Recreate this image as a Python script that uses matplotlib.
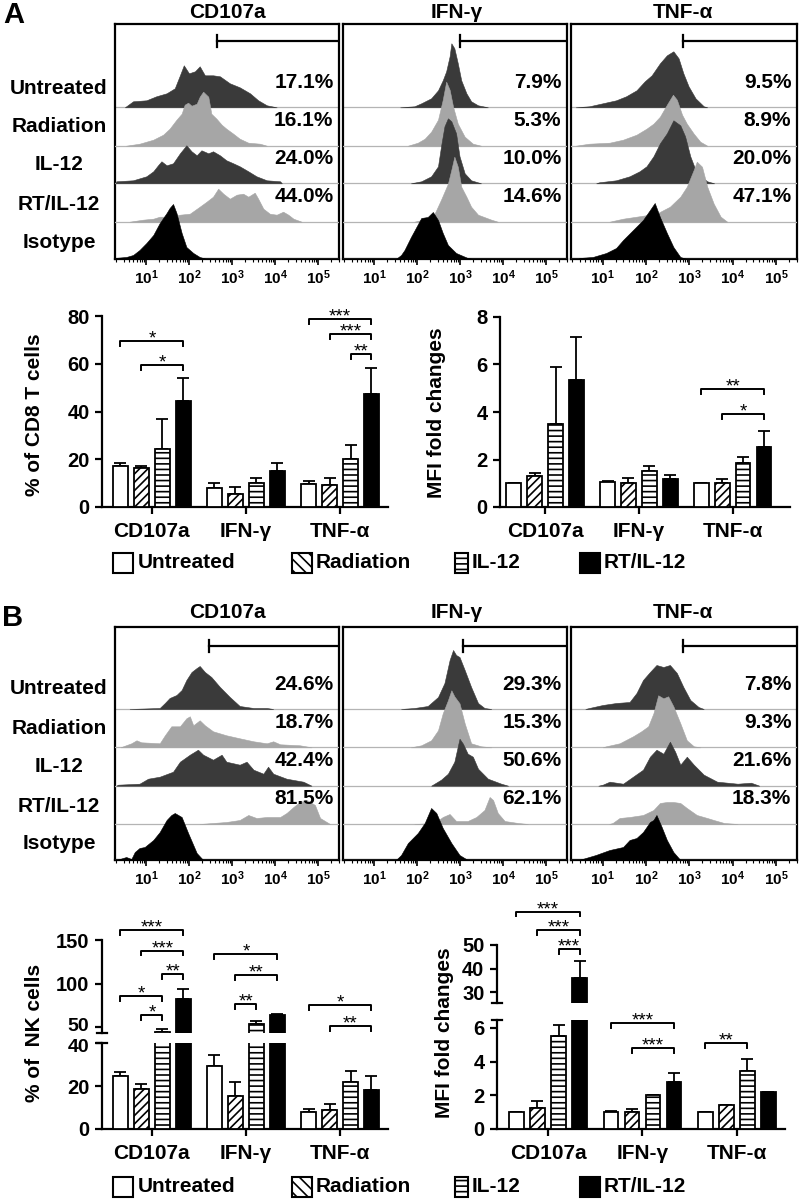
import numpy as np
import matplotlib.pyplot as plt
import matplotlib.transforms as mtransforms
from matplotlib.patches import Rectangle
from matplotlib.ticker import LogLocator, NullFormatter

plt.rcParams['font.family'] = ['Liberation Sans', 'DejaVu Sans']
plt.rcParams['font.weight'] = 'bold'
plt.rcParams['mathtext.fontset'] = 'custom'
plt.rcParams['mathtext.rm'] = 'Liberation Sans:bold'
plt.rcParams['mathtext.bf'] = 'Liberation Sans:bold'
plt.rcParams['hatch.linewidth'] = 1.2

# ---------------- data ----------------
conditions = ['Untreated', 'Radiation', 'IL-12', 'RT/IL-12']
row_labels = ['Untreated', 'Radiation', 'IL-12', 'RT/IL-12', 'Isotype']
markers = ['CD107a', 'IFN-γ', 'TNF-α']

# flow histograms: (log10 intensity, height above row baseline in px), rows top->bottom
A_CD107A = [
    [(0.50, 0), (0.69, 6), (1.0, 7), (1.23, 11), (1.47, 14), (1.66, 19), (1.78, 32), (1.87, 42), (1.99, 34), (2.13, 36),
     (2.24, 41), (2.36, 32), (2.55, 32), (2.71, 31), (2.94, 24), (3.17, 20), (3.41, 14), (3.60, 7), (3.80, 2), (4.03, 0)],
    [(0.53, 0), (0.84, 2), (1.16, 6), (1.39, 11), (1.54, 17), (1.70, 26), (1.82, 32), (1.89, 41), (1.97, 43), (2.05, 40),
     (2.17, 42), (2.24, 49), (2.32, 54), (2.44, 49), (2.51, 32), (2.63, 27), (2.75, 21), (2.86, 17), (3.02, 12), (3.17, 7),
     (3.37, 3), (3.64, 2), (3.80, 0)],
    [(0.28, 0), (0.30, 2), (0.69, 3), (1.0, 7), (1.16, 12), (1.27, 18), (1.35, 22), (1.47, 18), (1.62, 20), (1.78, 30),
     (1.93, 38), (2.05, 32), (2.17, 28), (2.28, 33), (2.44, 30), (2.55, 32), (2.71, 28), (2.86, 23), (3.02, 20), (3.17, 17),
     (3.37, 12), (3.56, 7), (3.80, 3), (4.11, 2), (4.15, 0)],
    [(0.61, 0), (0.92, 2), (1.16, 3), (1.31, 5), (1.54, 5), (1.78, 7), (2.01, 8), (2.24, 15), (2.40, 20), (2.55, 25),
     (2.67, 33), (2.79, 28), (2.94, 23), (3.10, 27), (3.25, 28), (3.37, 25), (3.52, 29), (3.60, 23), (3.72, 13), (3.87, 8),
     (4.03, 7), (4.18, 10), (4.30, 7), (4.42, 3), (4.61, 0)],
    [(0.26, 1), (0.53, 2), (0.69, 4), (0.84, 9), (1.0, 16), (1.16, 24), (1.31, 36), (1.47, 46), (1.54, 51), (1.62, 55),
     (1.70, 46), (1.82, 26), (1.93, 12), (2.09, 6), (2.24, 2), (2.40, 0)],
]
A_IFNG = [
    [(1.6, 0), (1.93, 1), (2.09, 4), (2.32, 9), (2.48, 17), (2.59, 27), (2.67, 36), (2.75, 51), (2.79, 64), (2.86, 59),
     (2.94, 44), (3.02, 27), (3.14, 14), (3.25, 6), (3.41, 2), (3.64, 0)],
    [(1.78, 0), (2.01, 3), (2.17, 7), (2.32, 14), (2.48, 26), (2.59, 46), (2.67, 64), (2.75, 56), (2.83, 39), (2.94, 22),
     (3.10, 9), (3.29, 2), (3.48, 0)],
    [(1.85, 0), (2.09, 2), (2.32, 7), (2.48, 17), (2.55, 37), (2.63, 57), (2.71, 65), (2.79, 62), (2.90, 50), (2.98, 27),
     (3.10, 10), (3.25, 3), (3.48, 0)],
    [(1.93, 0), (2.24, 3), (2.40, 8), (2.55, 22), (2.71, 38), (2.79, 52), (2.86, 65), (2.94, 55), (3.02, 35), (3.14, 25),
     (3.25, 15), (3.41, 7), (3.72, 2), (3.87, 0)],
    [(1.5, 0), (1.62, 4), (1.70, 9), (1.85, 22), (2.09, 41), (2.24, 42), (2.36, 47), (2.48, 39), (2.59, 26), (2.71, 14),
     (2.90, 6), (3.17, 1), (3.3, 0)],
]
A_TNFA = [
    [(0.38, 0), (0.69, 1), (1.0, 4), (1.31, 7), (1.54, 11), (1.78, 17), (1.97, 26), (2.13, 32), (2.32, 44), (2.48, 52),
     (2.63, 56), (2.75, 49), (2.86, 34), (2.98, 21), (3.14, 9), (3.33, 1), (3.41, 0)],
    [(0.38, 0), (0.69, 2), (1.16, 3), (1.47, 6), (1.78, 11), (2.01, 17), (2.17, 22), (2.32, 29), (2.48, 41), (2.62, 51),
     (2.71, 46), (2.83, 31), (2.94, 22), (3.10, 12), (3.25, 4), (3.41, 0)],
    [(0.85, 0), (0.92, 1), (1.31, 3), (1.62, 7), (1.85, 12), (2.01, 17), (2.17, 27), (2.32, 40), (2.48, 50), (2.63, 63),
     (2.79, 58), (2.90, 47), (3.02, 27), (3.17, 10), (3.41, 2), (3.57, 0)],
    [(1.16, 0), (1.47, 3), (1.78, 5), (2.24, 8), (2.55, 15), (2.79, 25), (2.94, 35), (3.10, 52), (3.17, 60), (3.29, 55),
     (3.41, 35), (3.56, 18), (3.72, 5), (3.87, 0)],
    [(0.46, 1), (0.77, 2), (1.08, 6), (1.31, 11), (1.47, 19), (1.70, 29), (1.93, 39), (2.09, 49), (2.20, 56), (2.32, 42),
     (2.48, 26), (2.63, 12), (2.79, 2), (2.94, 0)],
]
B_CD107A = [
    [(0.61, 0), (1.31, 1), (1.43, 6), (1.54, 11), (1.70, 14), (1.82, 19), (1.93, 29), (2.05, 37), (2.17, 41), (2.24, 43),
     (2.36, 37), (2.51, 32), (2.71, 22), (2.94, 12), (3.17, 3), (3.49, 1), (3.80, 1), (3.95, 0)],
    [(0.40, 0), (0.46, 1), (0.65, 4), (0.77, 7), (0.88, 5), (1.31, 4), (1.43, 12), (1.58, 21), (1.78, 21), (1.93, 29),
     (2.01, 31), (2.09, 22), (2.24, 27), (2.36, 22), (2.55, 16), (2.86, 12), (3.17, 9), (3.49, 6), (3.80, 4), (3.95, 6),
     (4.11, 3), (4.57, 2), (4.84, 0)],
    [(0.30, 0), (0.34, 1), (0.84, 2), (1.04, 7), (1.31, 9), (1.62, 14), (1.78, 24), (2.01, 31), (2.20, 36), (2.32, 31),
     (2.55, 26), (2.75, 31), (2.86, 24), (3.17, 21), (3.33, 24), (3.49, 16), (3.72, 12), (3.83, 19), (3.95, 12), (4.26, 7),
     (4.65, 4), (4.84, 0)],
    [(2.24, 0), (2.86, 2), (3.17, 4), (3.37, 9), (3.56, 6), (3.80, 7), (4.11, 7), (4.26, 11), (4.42, 17), (4.57, 22),
     (4.73, 24), (4.92, 19), (5.04, 6), (5.27, 0)],
    [(0.30, 0), (0.38, 1), (0.53, 3), (0.65, 1), (0.73, 8), (0.84, 12), (0.96, 13), (1.16, 20), (1.31, 28), (1.47, 40),
     (1.58, 45), (1.66, 47), (1.82, 43), (1.97, 27), (2.17, 7), (2.32, 0)],
]
B_IFNG = [
    [(1.62, 0), (1.93, 1), (2.24, 3), (2.48, 12), (2.63, 26), (2.75, 49), (2.83, 59), (2.90, 54), (2.98, 52), (3.10, 39),
     (3.25, 22), (3.41, 6), (3.56, 1), (3.72, 0)],
    [(1.85, 0), (2.09, 2), (2.32, 7), (2.48, 17), (2.59, 34), (2.71, 47), (2.79, 57), (2.86, 51), (2.98, 44), (3.10, 24),
     (3.25, 4), (3.48, 1), (3.72, 0)],
    [(2.32, 0), (2.55, 6), (2.71, 12), (2.86, 24), (2.98, 47), (3.06, 42), (3.17, 32), (3.29, 29), (3.41, 17), (3.64, 7),
     (3.95, 2), (4.11, 0)],
    [(1.93, 0), (2.40, 1), (2.59, 7), (2.75, 10), (2.90, 3), (3.17, 3), (3.37, 7), (3.56, 14), (3.68, 27), (3.76, 24),
     (3.87, 11), (4.03, 3), (4.34, 1), (4.57, 0)],
    [(1.5, 0), (1.62, 5), (1.78, 17), (2.01, 27), (2.17, 37), (2.32, 52), (2.44, 47), (2.59, 32), (2.79, 17), (2.98, 5),
     (3.17, 0)],
]
B_TNFA = [
    [(0.6, 0), (0.69, 1), (1.0, 4), (1.31, 6), (1.62, 7), (1.78, 16), (1.93, 29), (2.09, 37), (2.24, 44), (2.40, 42),
     (2.55, 44), (2.71, 36), (2.86, 22), (3.02, 9), (3.21, 2), (3.33, 0)],
    [(1.0, 0), (1.08, 1), (1.39, 4), (1.70, 11), (1.89, 16), (2.05, 21), (2.17, 34), (2.28, 52), (2.40, 49), (2.51, 51),
     (2.63, 41), (2.79, 24), (2.94, 7), (3.10, 1), (3.25, 0)],
    [(0.9, 0), (1.0, 1), (1.16, 4), (1.47, 2), (1.70, 9), (1.93, 16), (2.09, 29), (2.24, 36), (2.40, 32), (2.55, 44),
     (2.67, 34), (2.79, 21), (2.94, 29), (3.10, 21), (3.33, 11), (3.64, 4), (4.11, 2), (4.42, 3), (4.61, 0)],
    [(1.15, 0), (1.23, 1), (1.39, 6), (1.62, 7), (1.93, 9), (2.17, 14), (2.32, 21), (2.48, 22), (2.63, 22), (2.79, 21),
     (2.94, 16), (3.17, 9), (3.41, 6), (3.56, 4), (3.80, 1), (4.11, 0)],
    [(0.45, 0), (0.53, 1), (0.84, 5), (1.16, 10), (1.47, 13), (1.62, 20), (1.78, 22), (1.93, 28), (2.09, 38), (2.17, 40),
     (2.24, 45), (2.36, 33), (2.48, 20), (2.63, 8), (2.79, 0)],
]

A_PCT = [['17.1%', '16.1%', '24.0%', '44.0%'], ['7.9%', '5.3%', '10.0%', '14.6%'], ['9.5%', '8.9%', '20.0%', '47.1%']]
B_PCT = [['24.6%', '18.7%', '42.4%', '81.5%'], ['29.3%', '15.3%', '50.6%', '62.1%'], ['7.8%', '9.3%', '21.6%', '18.3%']]
A_GATE = [2.64, 2.99, 2.85]   # log10 gate start
B_GATE = [2.45, 3.06, 2.85]

# bar charts: [marker][condition]
A_CD8_MEAN = [[17.2, 16.3, 24.2, 44.3], [8.1, 5.6, 10.2, 14.9], [9.8, 9.4, 20.3, 47.2]]
A_CD8_ERR = [[1.4, 0.9, 12.5, 9.6], [2.0, 2.8, 2.0, 3.7], [1.1, 2.8, 5.8, 11.0]]
A_MFI_MEAN = [[1.0, 1.3, 3.5, 5.33], [1.05, 1.0, 1.5, 1.19], [1.0, 1.03, 1.85, 2.53]]
A_MFI_ERR = [[0.02, 0.13, 2.4, 1.83], [0.03, 0.22, 0.23, 0.14], [0.02, 0.16, 0.25, 0.67]]
B_NK_MEAN = [[24.5, 18.6, 44.2, 82.7], [29.1, 15.2, 53.0, 64.2], [7.8, 9.0, 21.7, 18.3]]
B_NK_ERR = [[2.0, 2.3, 3.8, 11.5], [5.5, 6.7, 3.5, 1.2], [1.5, 2.8, 5.1, 6.2]]
B_MFI_MEAN = [[1.0, 1.25, 5.5, 36.0], [1.03, 1.0, 2.0, 2.77], [1.0, 1.4, 3.43, 2.18]]
B_MFI_ERR = [[0.02, 0.39, 0.7, 7.0], [0.02, 0.19, 0.02, 0.56], [0.02, 0.05, 0.75, 0.04]]

# significance: (marker, cond i, cond j, height, stars)
A_CD8_SIG = [(0, 0, 3, 69.6, '*'), (0, 1, 3, 59.6, '*'), (2, 0, 3, 78.6, '***'), (2, 1, 3, 72.3, '***'),
             (2, 2, 3, 64.2, '**')]
A_MFI_SIG = [(2, 0, 3, 4.98, '**'), (2, 1, 3, 3.93, '*')]
B_NK_SIG = [(0, 0, 3, 162, '***'), (0, 1, 3, 138, '***'), (0, 2, 3, 111, '**'), (0, 0, 2, 86, '*'),
            (0, 1, 2, 64, '*'), (1, 0, 3, 134, '*'), (1, 1, 3, 110, '**'), (1, 1, 2, 76, '**'),
            (2, 0, 3, 75, '*'), (2, 1, 3, 51, '**')]
B_MFI_SIG_UP = [(0, 0, 3, 64, '***'), (0, 1, 3, 56.3, '***'), (0, 2, 3, 48.3, '***')]
B_MFI_SIG_LOW = [(1, 0, 3, 6.3, '***'), (1, 1, 3, 4.8, '***'), (2, 0, 2, 5.1, '**')]

# ---------------- figure ----------------
W, H = 800, 1201
fig = plt.figure(figsize=(8, 12.01), dpi=100)


def px_axes(l, t, r, b):
    return fig.add_axes([l / W, 1 - b / H, (r - l) / W, (b - t) / H])


hist_colors = ['#3a3a3a', '#a6a6a6', '#3a3a3a', '#a6a6a6', 'black']
box_x = [(115, 339), (343, 567), (571, 797)]
XMIN, XMAX = 0.27, 5.48


def hist_panel(top, bottom, baselines, gate_y, rows_list, pcts, gates):
    for k in range(3):
        l, r = box_x[k]
        ax = px_axes(l, top, r, bottom)
        ax.set_xscale('log')
        for i, pts in enumerate(rows_list[k]):
            L = np.array([p[0] for p in pts])
            h = np.array([p[1] for p in pts])
            base = baselines[i]
            ax.axhline(base, color='#b4b4b4', lw=0.9, zorder=2 + 2 * i)
            ax.fill_between(10 ** L, base, base + h, facecolor=hist_colors[i], edgecolor=hist_colors[i],
                            lw=0.4, zorder=3 + 2 * i)
            if i < 4:
                ax.text(0.975, base + 25, pcts[k][i], transform=ax.get_yaxis_transform(),
                        ha='right', va='center', fontsize=15, zorder=20)
        g = 10 ** gates[k]
        ax.plot([g, 10 ** XMAX], [gate_y, gate_y], color='black', lw=1.6, zorder=20)
        ax.plot([g, g], [gate_y - 6, gate_y + 6], color='black', lw=1.6, zorder=20)
        ax.set_xticks([10 ** e for e in range(1, 6)])
        ax.set_xticklabels([r'$\mathbf{10^{%d}}$' % e for e in range(1, 6)], fontsize=11)
        ax.xaxis.set_minor_locator(LogLocator(base=10, subs=np.arange(2, 10), numticks=30))
        ax.xaxis.set_minor_formatter(NullFormatter())
        ax.tick_params(axis='x', which='major', direction='out', length=4, width=1.2, pad=3)
        ax.tick_params(axis='x', which='minor', direction='out', length=2.5, width=0.8)
        ax.set_yticks([])
        ax.set_xlim(10 ** XMIN, 10 ** XMAX)
        ax.set_ylim(0, bottom - top)
        for s in ax.spines.values():
            s.set_linewidth(1.6)


hist_panel(24, 259, [151.7, 113.3, 75.7, 37.3, 0], 218, [A_CD107A, A_IFNG, A_TNFA], A_PCT, A_GATE)
hist_panel(627, 860, [151, 112.7, 74.3, 36, 0], 214, [B_CD107A, B_IFNG, B_TNFA], B_PCT, B_GATE)

face = ['white', 'white', 'white', 'black']
hatches = ['', '////', '---', '']
offs = np.array([-1.5, -0.5, 0.5, 1.5]) * 0.223
BW = 0.155


def bars(ax, means, errs):
    for c in range(4):
        xs = np.arange(3) + offs[c]
        v = np.array([means[g][c] for g in range(3)])
        e = np.array([errs[g][c] for g in range(3)])
        ax.errorbar(xs, v, yerr=[np.zeros(3), e], fmt='none', ecolor='black', elinewidth=1.3,
                    capsize=4.5, capthick=1.3, zorder=2)
        ax.bar(xs, v, BW, color=face[c], edgecolor='black', hatch=hatches[c], linewidth=1.3, zorder=3)


def brackets(ax, sigs, tick):
    for g, i, j, y, s in sigs:
        x1, x2 = g + offs[i], g + offs[j]
        ax.plot([x1, x1, x2, x2], [y - tick, y, y, y - tick], color='black', lw=1.4, clip_on=False, zorder=5)
        ax.annotate(s, (0.5 * (x1 + x2), y), xytext=(0, -1.8), textcoords='offset points', ha='center',
                    va='baseline', fontsize=13.5, fontweight='normal', annotation_clip=False)


def style(ax, xlim, ylim, yticks, xaxis=True, bounds=None):
    ax.set_xlim(*xlim)
    ax.set_ylim(*ylim)
    ax.set_yticks(yticks)
    ax.patch.set_visible(False)
    for s in ['top', 'right']:
        ax.spines[s].set_visible(False)
    ax.spines['left'].set_linewidth(1.6)
    ax.spines['bottom'].set_linewidth(1.6)
    ax.tick_params(axis='y', direction='out', length=5, width=1.6, labelsize=14.5, pad=4)
    if bounds:
        ax.spines['left'].set_bounds(*bounds)
    if xaxis:
        ax.set_xticks(range(3))
        ax.set_xticklabels(markers, fontsize=15)
        ax.tick_params(axis='x', direction='out', length=5, width=1.6, pad=6)
    else:
        ax.spines['bottom'].set_visible(False)
        ax.set_xticks([])


def nudge_label(ax, idx, dy_px, size):
    # pull apart the two labels that sit next to an axis break
    lab = ax.get_yticklabels()[idx]
    lab.set_fontsize(size)
    lab.set_transform(lab.get_transform() + mtransforms.ScaledTranslation(0, dy_px / 100, fig.dpi_scale_trans))


# A left
ax = px_axes(102, 316, 388, 507)
bars(ax, A_CD8_MEAN, A_CD8_ERR)
brackets(ax, A_CD8_SIG, 2.1)
style(ax, (-0.53, 2.51), (0, 80), [0, 20, 40, 60, 80])

# A right
ax = px_axes(500, 317, 790, 507)
bars(ax, A_MFI_MEAN, A_MFI_ERR)
brackets(ax, A_MFI_SIG, 0.21)
style(ax, (-0.48, 2.61), (0, 8), [0, 2, 4, 6, 8])

# B left (broken axis)
ax = px_axes(102, 1043, 388, 1129)
bars(ax, B_NK_MEAN, B_NK_ERR)
style(ax, (-0.53, 2.51), (0, 40), [0, 20, 40])
nudge_label(ax, 2, -2, 14)
ax = px_axes(102, 916, 388, 1033)
bars(ax, B_NK_MEAN, B_NK_ERR)
brackets(ax, B_NK_SIG, 5.5)
style(ax, (-0.53, 2.51), (43, 178), [50, 100, 150], xaxis=False, bounds=(43, 150))
nudge_label(ax, 0, 2, 14)

# B right (broken axis)
ax = px_axes(497, 1020, 785, 1129)
bars(ax, B_MFI_MEAN, B_MFI_ERR)
brackets(ax, B_MFI_SIG_LOW, 0.29)
style(ax, (-0.54, 2.51), (0, 6.47), [0, 2, 4, 6])
ax = px_axes(497, 902, 785, 1003)
bars(ax, B_MFI_MEAN, B_MFI_ERR)
brackets(ax, B_MFI_SIG_UP, 2.1)
style(ax, (-0.54, 2.51), (25.5, 68), [30, 40, 50], xaxis=False, bounds=(25.5, 50))

# overlay in pixel coordinates for labels
ov = fig.add_axes([0, 0, 1, 1])
ov.set_xlim(0, W)
ov.set_ylim(H, 0)
ov.axis('off')

ov.text(14, 15, 'A', fontsize=21, ha='center', va='center')
ov.text(13, 618, 'B', fontsize=21, ha='center', va='center')
for x, m in zip([227, 457, 683], markers):
    ov.text(x, 13, m, fontsize=15, ha='center', va='center')
    ov.text(x, 613, m, fontsize=15, ha='center', va='center')
for lab, ya, yb in zip(row_labels, [88, 126.7, 165, 204, 242.7], [688, 728, 766.7, 806.7, 843.3]):
    ov.text(59, ya, lab, fontsize=15, ha='center', va='center')
    ov.text(59, yb, lab, fontsize=15, ha='center', va='center')

ov.text(35, 415, '% of CD8 T cells', fontsize=15, rotation=90, ha='center', va='center')
ov.text(437, 413, 'MFI fold changes', fontsize=15, rotation=90, ha='center', va='center')
ov.text(35, 1033, '% of  NK cells', fontsize=15, rotation=90, ha='center', va='center')
ov.text(445, 1033, 'MFI fold changes', fontsize=15, rotation=90, ha='center', va='center')

# break marks
for sx, ys in [(102, [1043, 1033]), (497, [1020, 1003])]:
    for yy in ys:
        ov.plot([sx - 5, sx + 5], [yy, yy], color='black', lw=1.6)

# legends
leg_hatch = ['', '\\\\\\', '---', '']
leg_x = [113, 292, 455, 580]
leg_w = [20, 20, 13, 20]
leg_tx = [138, 316, 472, 604]
for ly in [563, 1187]:
    for c in range(4):
        ov.add_patch(Rectangle((leg_x[c], ly - 10), leg_w[c], 20, facecolor=face[c], edgecolor='black',
                               hatch=leg_hatch[c], lw=1.5))
        ov.text(leg_tx[c], ly, conditions[c], fontsize=15, ha='left', va='center')

fig.savefig('out.png', dpi=100)
